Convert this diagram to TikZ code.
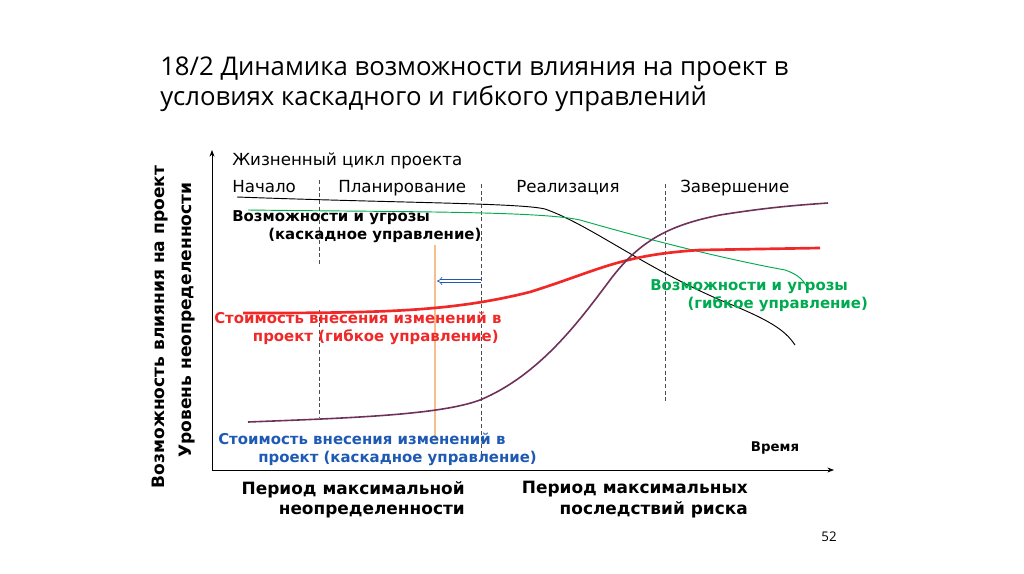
\documentclass[tikz,border=0pt]{standalone}
\usepackage{fontspec}
\setmainfont{DejaVu Sans}
\newfontfamily\titlefont{Open Sans}
\usetikzlibrary{arrows.meta}
\definecolor{cgreen}{RGB}{0,170,80}
\definecolor{cred}{RGB}{240,40,40}
\definecolor{cblue}{RGB}{30,90,180}
\definecolor{cpurp}{RGB}{110,50,90}
\definecolor{corange}{RGB}{245,190,140}
\begin{document}
\begin{tikzpicture}[x=0.75pt,y=-0.75pt,
  lbl/.style={font=\fontsize{11.2}{13.5}\selectfont\bfseries,align=left,inner sep=0,anchor=north west},
  phase/.style={font=\fontsize{12.5}{14}\selectfont,anchor=base west,inner sep=0},
  dv/.style={densely dashed,black!70,line width=0.5pt}]
\useasboundingbox (0,0) rectangle (1024,574);
\node[anchor=north west,align=left,font=\titlefont\fontsize{19.3}{22.5}\selectfont,inner sep=0] (title) at (160,57) {18/2 Динамика возможности влияния на проект в\\условиях каскадного и гибкого управлений};
\coordinate (o) at (212,470);
\coordinate (ytop) at (212,150);
\coordinate (xend) at (834,470);
\draw[-{Stealth[length=5pt]},line width=0.6pt] (o) -- (ytop);
\draw[-{Stealth[length=5pt]},line width=0.6pt] (o) -- (xend);
\node[rotate=90,font=\fontsize{12.8}{14}\selectfont\bfseries] (ya) at (160,327) {Возможность влияния на проект};
\node[rotate=90,font=\fontsize{12.8}{14}\selectfont\bfseries] (yb) at (187,320) {Уровень неопределенности};
\node[phase] (lc) at (232,166) {Жизненный цикл проекта};
\node[phase] (p1) at (232,192) {Начало};
\node[phase] (p2) at (338,192) {Планирование};
\node[phase] (p3) at (516,192) {Реализация};
\node[phase] (p4) at (680,192) {Завершение};
\draw[dv] (319,180) -- (319,265);
\draw[dv] (319,310) -- (319,417);
\draw[dv] (481,184) -- (481,460);
\draw[dv] (665,184) -- (665,402);
\draw[corange,line width=0.8pt] (435,245) -- (435,440);
\coordinate (ar1) at (481,281);
\coordinate (ar2) at (437,281);
\draw[cblue,double,double distance=1.5pt,line width=0.5pt,-{Implies}] (ar1) -- (ar2);
% black
\draw[black,line width=0.7pt] (237,197) .. controls (400,203) and (520,203) .. (545,209)
  .. controls (590,225) and (640,265) .. (720,300) .. controls (770,320) and (785,330) .. (795,345);
% green
\draw[cgreen,line width=0.7pt] (248,210) .. controls (400,212) and (540,211) .. (580,220)
  .. controls (650,240) and (720,258) .. (785,270) .. controls (800,275) and (805,282) .. (808,290);
% red
\draw[cred,line width=2pt] (243,313) .. controls (380,313) and (450,312) .. (530,292)
  .. controls (600,270) and (620,255) .. (700,250) -- (820,248);
% purple
\draw[cpurp,line width=1.2pt] (248,422) .. controls (350,418) and (440,415) .. (480,400)
  .. controls (540,375) and (580,320) .. (610,280) .. controls (640,240) and (670,225) .. (720,215)
  .. controls (770,207) and (800,205) .. (828,203);
\node[lbl] (l1) at (232,210) {Возможности и угрозы\\\hspace*{27pt}(каскадное управление)};
\node[lbl,text=cred] (l2) at (214,312) {Стоимость внесения изменений в\\\hspace*{29pt}проект (гибкое управление)};
\node[lbl,text=cgreen] (l3) at (650,279) {Возможности и угрозы\\\hspace*{28pt}(гибкое управление)};
\node[lbl,text=cblue] (l4) at (218,433) {Стоимость внесения изменений в\\\hspace*{30pt}проект (каскадное управление)};
\node[anchor=center,font=\fontsize{10}{12}\selectfont\bfseries] (tm) at (775,448) {Время};
\node[font=\fontsize{12.7}{15.5}\selectfont\bfseries,align=right,anchor=north east,inner sep=0] (b1) at (465,481) {Период максимальной\\неопределенности};
\node[font=\fontsize{12.7}{15.5}\selectfont\bfseries,align=right,anchor=north east,inner sep=0] (b2) at (748,481) {Период максимальных\\последствий риска};
\node[font=\titlefont\fontsize{10}{12}\selectfont] (pg) at (829,537) {52};
\end{tikzpicture}
\end{document}
